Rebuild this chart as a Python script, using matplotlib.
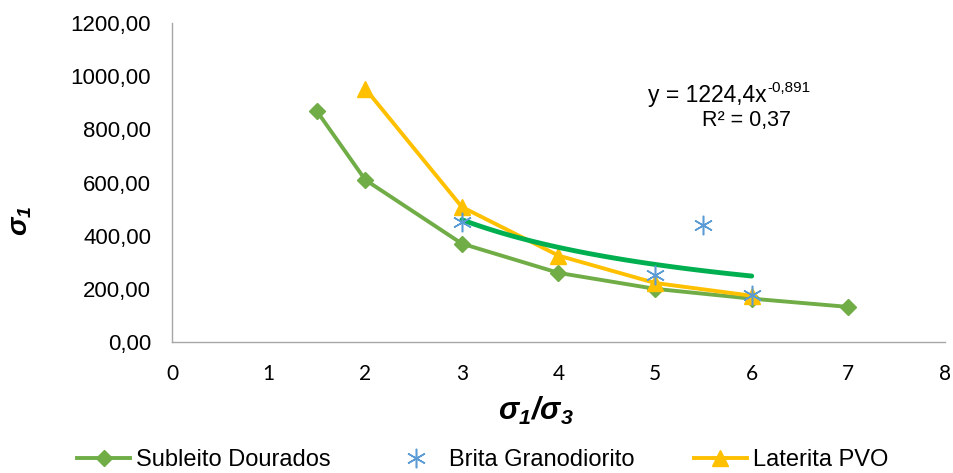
import numpy as np
import matplotlib
matplotlib.use("Agg")
import matplotlib.pyplot as plt
from matplotlib.ticker import FuncFormatter

plt.rcParams["font.family"] = ["Liberation Sans", "DejaVu Sans"]
plt.rcParams["mathtext.fontset"] = "custom"
plt.rcParams["mathtext.rm"] = "Liberation Sans"
plt.rcParams["mathtext.it"] = "Liberation Sans:italic"
plt.rcParams["mathtext.bf"] = "Liberation Sans:bold:italic"

# data
sub_x = [1.5, 2, 3, 4, 5, 6, 7]
sub_y = [868, 610, 370, 260, 200, 163, 132]

brita_x = [3, 5, 5.5, 6]
brita_y = [450, 253, 440, 175]

lat_x = [2, 3, 4, 5, 6]
lat_y = [953, 508, 325, 222, 174]

# power trendline shown on the chart: y = a * x^b
trend_a = 1224.4
trend_b = -0.891
trend_range = [3, 6]

fig = plt.figure(figsize=(9.54, 4.73), dpi=100)
ax = fig.add_axes([172 / 954, 1 - 342 / 473, (945 - 172) / 954, (342 - 23) / 473])

ax.plot(sub_x, sub_y, color="#70AD47", lw=2.8, marker="D", ms=8,
        label="Subleito Dourados", zorder=3)
ax.plot(brita_x, brita_y, ls="none", marker=(6, 2, 0), ms=14, mew=1.1,
        color="#5B9BD5", label="Brita Granodiorito", zorder=5)
ax.plot(lat_x, lat_y, color="#FFC000", lw=2.8, marker="^", ms=11,
        label="Laterita PVO", zorder=4)

tx = np.linspace(trend_range[0], trend_range[1], 100)
ax.plot(tx, trend_a * tx ** trend_b, color="#00B050", lw=3.5,
        solid_capstyle="round", zorder=4)

eq = ax.text(4.93, 929, "y = 1224,4x", ha="left", va="center", fontsize=16.5)
ax.annotate("-0,891", xy=(1, 0.8), xycoords=eq, ha="left", va="center",
            fontsize=11)
ax.text(5.95, 835, "R² = 0,37", ha="center", va="center", fontsize=15.5)

ax.set_xlim(0, 8)
ax.set_ylim(0, 1200)
ax.set_xticks(range(0, 9))
ax.set_yticks(range(0, 1201, 200))
ax.yaxis.set_major_formatter(FuncFormatter(lambda v, p: f"{v:.2f}".replace(".", ",")))
ax.tick_params(length=0)
ax.tick_params(axis="y", labelsize=16, pad=15)
ax.tick_params(axis="x", labelsize=15, pad=16)
for lab in ax.get_xticklabels():
    lab.set_fontfamily("Lato")

for s in ["top", "right"]:
    ax.spines[s].set_visible(False)
for s in ["left", "bottom"]:
    ax.spines[s].set_color("#A6A6A6")
    ax.spines[s].set_linewidth(1)

ax.set_xlabel(r"$\mathbf{\sigma_1/\sigma_3}$", fontsize=22)
ax.xaxis.set_label_coords(0.471, -0.165)
ax.set_ylabel(r"$\mathbf{\sigma_1}$", fontsize=20)
ax.yaxis.set_label_coords(-0.178, 0.38)

fig.legend(loc="center left", bbox_to_anchor=(77 / 954, 1 - 460 / 473),
           ncol=3, frameon=False, fontsize=17, handlelength=2.25,
           handletextpad=0.26, columnspacing=2.5, borderpad=0,
           borderaxespad=0)

fig.savefig("out.png", dpi=100)
